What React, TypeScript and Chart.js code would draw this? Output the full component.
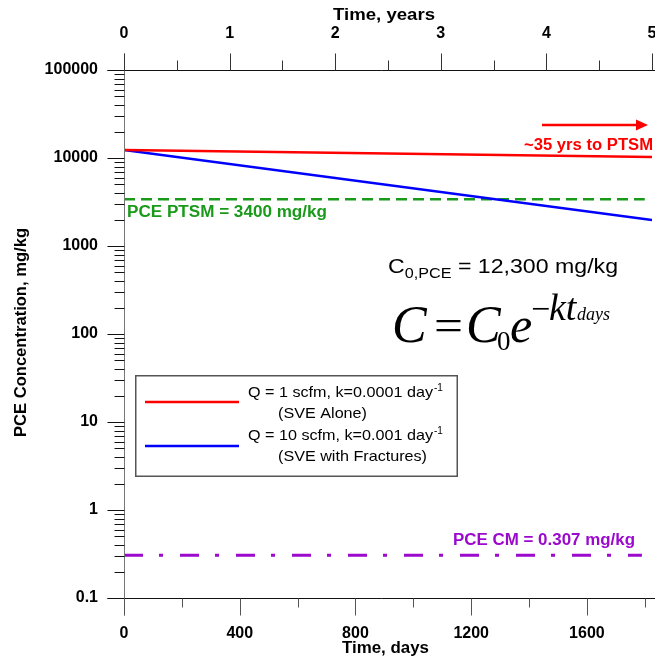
import React, { useEffect, useRef } from 'react';
import { Chart, registerables } from 'chart.js';

Chart.register(...registerables);

// ---- data ----
const days = [0, 1825];
const sveAlone = [12300, 10250]; // k = 0.0001 /day
const sveFractures = [12300, 1980]; // k = 0.001 /day
const ptsmDays = [0, 1800];
const ptsm = [3400, 3400];
const cmDays = [0, 1790];
const cm = [0.307, 0.307];
const dayTicks = [0, 400, 800, 1200, 1600];
const dayMinorTicks = [200, 600, 1000, 1400, 1800];
const yearTicks = [0, 1, 2, 3, 4, 5];
const yearMinorTicks = [0.5, 1.5, 2.5, 3.5, 4.5];
const concTicks = [0.1, 1, 10, 100, 1000, 10000, 100000];

const SANS = '"Liberation Sans", Arial, sans-serif';
const SERIF = '"Liberation Serif", "Times New Roman", serif';

function fitText(
  ctx: CanvasRenderingContext2D,
  text: string,
  x: number,
  y: number,
  font: string,
  w: number,
  align: 'left' | 'right' | 'center' = 'left'
) {
  ctx.font = font;
  const m = ctx.measureText(text).width;
  const s = w / m;
  const x0 = align === 'left' ? x : align === 'right' ? x - w : x - w / 2;
  ctx.save();
  ctx.translate(x0, y);
  ctx.scale(s, 1);
  ctx.textAlign = 'left';
  ctx.fillText(text, 0, 0);
  ctx.restore();
}

const decor = {
  id: 'decor',
  afterDraw(chart: any) {
    const ctx: CanvasRenderingContext2D = chart.ctx;
    const { x, x2, y } = chart.scales;
    const ca = chart.chartArea;
    const W = chart.width;
    ctx.save();

    const seg = (x1: number, y1: number, xe: number, ye: number) => {
      ctx.beginPath();
      ctx.moveTo(x1, y1);
      ctx.lineTo(xe, ye);
      ctx.stroke();
    };
    const L = Math.round(ca.left) + 0.5;
    const T = Math.round(ca.top) + 0.5;
    const B = Math.round(ca.bottom) + 0.5;

    // axis lines
    ctx.lineWidth = 1;
    ctx.strokeStyle = '#111';
    seg(L - 17, T, W, T);
    seg(L - 17, B, W, B);
    ctx.strokeStyle = '#777';
    seg(L, T - 17, L, B + 17);

    // left ticks
    ctx.strokeStyle = '#111';
    for (const v of concTicks) {
      const py = Math.round(y.getPixelForValue(v)) + 0.5;
      seg(L - 17, py, L, py);
    }
    for (let e = -1; e < 5; e++) {
      for (let m = 2; m <= 9; m++) {
        const py = Math.round(y.getPixelForValue(m * Math.pow(10, e))) + 0.5;
        seg(L - 10, py, L, py);
      }
    }
    // top ticks
    ctx.strokeStyle = '#333';
    for (const v of yearTicks) {
      const px = Math.round(x2.getPixelForValue(v)) + 0.5;
      seg(px, T - 17, px, T);
    }
    for (const v of yearMinorTicks) {
      const px = Math.round(x2.getPixelForValue(v)) + 0.5;
      seg(px, T - 10, px, T);
    }
    // bottom ticks
    ctx.strokeStyle = '#555';
    for (const v of dayTicks) {
      const px = Math.round(x.getPixelForValue(v)) + 0.5;
      seg(px, B, px, B + 17);
    }
    for (const v of dayMinorTicks) {
      const px = Math.round(x.getPixelForValue(v)) + 0.5;
      seg(px, B, px, B + 9);
    }

    // axis titles
    ctx.fillStyle = '#000';
    ctx.textBaseline = 'middle';
    const bold16 = `bold 16px ${SANS}`;
    fitText(ctx, 'Time, years', 384, 16, bold16, 102, 'center');
    fitText(ctx, 'Time, days', 385.5, 649, bold16, 87, 'center');
    ctx.save();
    ctx.translate(22, 332.5);
    ctx.rotate(-Math.PI / 2);
    fitText(ctx, 'PCE Concentration, mg/kg', 0, 0, bold16, 209, 'center');
    ctx.restore();

    // annotations
    ctx.textBaseline = 'alphabetic';
    ctx.fillStyle = '#1a9a1a';
    fitText(ctx, 'PCE PTSM = 3400 mg/kg', 127, 217, bold16, 200, 'left');

    ctx.fillStyle = '#9a09cc';
    fitText(ctx, 'PCE CM = 0.307 mg/kg', 453, 545, bold16, 182, 'left');

    ctx.fillStyle = '#ff0000';
    fitText(ctx, '~35 yrs to PTSM', 653, 150, bold16, 129, 'right');
    // arrow
    ctx.strokeStyle = '#ff0000';
    ctx.lineWidth = 2.5;
    seg(542, 125, 638, 125);
    ctx.beginPath();
    ctx.moveTo(648, 125);
    ctx.lineTo(636, 119.5);
    ctx.lineTo(636, 130.5);
    ctx.closePath();
    ctx.fill();

    // C0 text
    ctx.fillStyle = '#000';
    {
      const big = `20px ${SANS}`;
      const small = `14px ${SANS}`;
      ctx.font = big;
      const w1 = ctx.measureText('C').width;
      const w3 = ctx.measureText(' = 12,300 mg/kg').width;
      ctx.font = small;
      const w2 = ctx.measureText('0,PCE').width;
      const s = 230 / (w1 + w2 + w3);
      ctx.save();
      ctx.translate(388, 273);
      ctx.scale(s, 1);
      ctx.textAlign = 'left';
      ctx.font = big;
      ctx.fillText('C', 0, 0);
      ctx.font = small;
      ctx.fillText('0,PCE', w1, 5);
      ctx.font = big;
      ctx.fillText(' = 12,300 mg/kg', w1 + w2, 0);
      ctx.restore();
    }

    // formula C = C0 e^(-kt_days)
    {
      const base = 342;
      ctx.textAlign = 'left';
      ctx.font = `italic 52px ${SERIF}`;
      ctx.fillText('C', 392, base);
      fitText(ctx, '=', 434, base - 2, `44px ${SERIF}`, 29, 'left');
      ctx.font = `italic 52px ${SERIF}`;
      ctx.fillText('C', 466, base);
      ctx.font = `27px ${SERIF}`;
      ctx.fillText('0', 497, base + 8);
      ctx.font = `italic 50px ${SERIF}`;
      ctx.fillText('e', 510, base);
      ctx.font = `34px ${SERIF}`;
      ctx.fillText('\u2212', 531, 320);
      ctx.font = `italic 38px ${SERIF}`;
      ctx.fillText('kt', 549, 320);
      ctx.font = `italic 18px ${SERIF}`;
      ctx.fillText('days', 577, 320);
    }

    // legend
    ctx.fillStyle = '#fff';
    ctx.fillRect(136, 376, 321, 100);
    ctx.strokeStyle = '#555';
    ctx.lineWidth = 1.5;
    ctx.strokeRect(135.75, 375.75, 321.5, 100.5);
    ctx.lineWidth = 2.5;
    ctx.strokeStyle = '#ff0000';
    seg(145, 402, 239, 402);
    ctx.strokeStyle = '#0000ff';
    seg(145, 446, 239, 446);
    ctx.fillStyle = '#000';
    const lf = `14.5px ${SANS}`;
    const supLine = (text: string, lx: number, ly: number) => {
      fitText(ctx, text, lx, ly, lf, 185, 'left');
      ctx.font = `10px ${SANS}`;
      ctx.textAlign = 'left';
      ctx.fillText('-1', lx + 186, ly - 6);
    };
    supLine('Q = 1 scfm, k=0.0001 day', 248, 397);
    fitText(ctx, '(SVE Alone)', 278, 418, lf, 89, 'left');
    supLine('Q = 10 scfm, k=0.001 day', 248, 440);
    fitText(ctx, '(SVE with Fractures)', 278, 461, lf, 149, 'left');

    ctx.restore();
  },
};

const tickFont = { family: SANS, size: 16, weight: 'bold' as const };
const zeroPad = (s: any) => {
  s.paddingLeft = 0;
  s.paddingRight = 0;
  s.paddingTop = 0;
  s.paddingBottom = 0;
};

export default function App() {
  const ref = useRef<HTMLCanvasElement>(null);
  useEffect(() => {
    const chart = new Chart(ref.current!, {
      type: 'line',
      data: {
        datasets: [
          {
            label: 'Q = 1 scfm, k=0.0001 day-1 (SVE Alone)',
            data: days.map((d, i) => ({ x: d, y: sveAlone[i] })),
            borderColor: '#ff0000',
            borderWidth: 2.5,
            pointRadius: 0,
          },
          {
            label: 'Q = 10 scfm, k=0.001 day-1 (SVE with Fractures)',
            data: days.map((d, i) => ({ x: d, y: sveFractures[i] })),
            borderColor: '#0000ff',
            borderWidth: 2.5,
            pointRadius: 0,
          },
          {
            label: 'PCE PTSM',
            data: ptsmDays.map((d, i) => ({ x: d, y: ptsm[i] })),
            borderColor: '#1a9a1a',
            borderWidth: 2.5,
            borderDash: [11, 6],
            pointRadius: 0,
          },
          {
            label: 'PCE CM',
            data: cmDays.map((d, i) => ({ x: d, y: cm[i] })),
            borderColor: '#9a09cc',
            borderWidth: 3,
            borderDash: [19, 16, 4, 17],
            pointRadius: 0,
          },
        ],
      },
      options: {
        animation: false,
        responsive: false,
        devicePixelRatio: 1,
        layout: { padding: { left: 0, right: 3, top: 0, bottom: 0 } },
        plugins: { legend: { display: false }, tooltip: { enabled: false } },
        scales: {
          x: {
            type: 'linear',
            position: 'bottom',
            min: 0,
            max: 1825,
            afterBuildTicks: (s: any) => {
              s.ticks = dayTicks.map((v) => ({ value: v }));
            },
            afterFit: (s: any) => {
              s.height = 67;
              zeroPad(s);
            },
            grid: { display: false, drawTicks: false },
            border: { display: false },
            ticks: {
              padding: 26,
              font: tickFont,
              color: '#000',
              maxRotation: 0,
              autoSkip: false,
              callback: (v: any) => String(v),
            },
          },
          x2: {
            type: 'linear',
            position: 'top',
            min: 0,
            max: 5,
            afterBuildTicks: (s: any) => {
              s.ticks = yearTicks.map((v) => ({ value: v }));
            },
            afterFit: (s: any) => {
              s.height = 70;
              zeroPad(s);
            },
            grid: { display: false, drawTicks: false },
            border: { display: false },
            ticks: {
              padding: 27,
              font: tickFont,
              color: '#000',
              maxRotation: 0,
              autoSkip: false,
              callback: (v: any) => String(v),
            },
          },
          y: {
            type: 'logarithmic',
            min: 0.1,
            max: 100000,
            afterBuildTicks: (s: any) => {
              s.ticks = concTicks.map((v) => ({ value: v }));
            },
            afterFit: (s: any) => {
              s.width = 124;
              zeroPad(s);
            },
            grid: { display: false, drawTicks: false },
            border: { display: false },
            ticks: {
              padding: 26,
              font: tickFont,
              color: '#000',
              autoSkip: false,
              callback: (v: any) => String(v),
            },
          },
        },
      },
      plugins: [decor],
    });
    return () => chart.destroy();
  }, []);
  return (
    <canvas
      ref={ref}
      width={655}
      height={665}
      style={{ position: 'fixed', left: 0, top: 0, width: 655, height: 665 }}
    />
  );
}
